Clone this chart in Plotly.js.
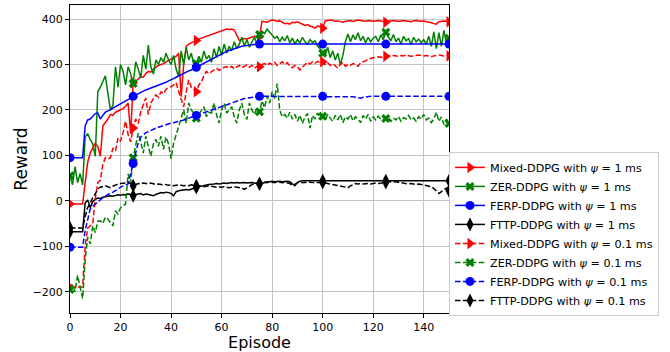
<!DOCTYPE html>
<html>
<head>
<meta charset="utf-8">
<script src="https://cdn.plot.ly/plotly-3.0.1.min.js"></script>
<style>html,body{margin:0;padding:0;background:#fff;}#chart{width:670px;height:352px;}</style>
</head>
<body>
<div id="chart"></div>
<script>
// Episodes 0..150
const episodes = Array.from({length: 151}, (_, i) => i);
const markerEvery = 25;

const seriesNames = [
  "Mixed-DDPG with <i>ψ</i> = 1 ms",
  "ZER-DDPG with <i>ψ</i> = 1 ms",
  "FERP-DDPG with <i>ψ</i> = 1 ms",
  "FTTP-DDPG with <i>ψ</i> = 1 ms",
  "Mixed-DDPG with <i>ψ</i> = 0.1 ms",
  "ZER-DDPG with <i>ψ</i> = 0.1 ms",
  "FERP-DDPG with <i>ψ</i> = 0.1 ms",
  "FTTP-DDPG with <i>ψ</i> = 0.1 ms"
];

const mixed1 = [
  -7,-7,-7,-7,-7,-7,40,85,105,118,
  127,120,98,165,172,180,190,188,195,198,
  200,203,208,215,148,260,263,268,273,272,
  280,285,283,290,295,298,300,302,306,310,
  312,315,318,325,229,300,340,345,348,350,
  353,356,358,360,362,365,367,369,370,372,
  374,376,378,377,378,376,365,353,355,357,
  356,358,360,362,361,362,395,394,393,396,
  398,397,395,396,392,390,391,389,393,392,
  394,391,389,386,388,384,383,380,385,383,
  380,396,397,398,397,395,396,394,393,395,
  396,397,395,396,398,397,396,395,397,396,
  395,396,397,396,394,393,395,396,397,396,
  395,396,397,396,395,394,396,397,396,395,
  396,395,394,392,390,389,394,395,396,395,
  394
];
const zer1 = [
  55,35,75,40,60,35,140,148,135,125,
  98,240,250,262,275,236,200,210,295,250,
  300,285,255,295,280,258,306,290,270,320,
  290,343,295,279,310,300,315,305,325,310,
  300,320,290,273,330,300,338,310,325,300,
  302,318,305,330,312,320,305,335,315,340,
  320,345,325,340,330,350,335,345,360,340,
  355,338,348,360,345,366,372,368,378,372,
  365,358,362,350,360,352,364,348,358,345,
  355,348,360,350,345,355,348,352,340,335,
  325,320,338,315,330,310,325,299,320,350,
  367,350,365,355,370,352,362,348,360,350,
  358,362,350,365,355,371,360,352,366,350,
  358,345,362,352,357,345,360,350,356,348,
  355,345,362,340,372,335,370,340,375,345,
  358
];
const ferp1 = [
  95,95,95,95,95,95,165,178,180,186,
  192,193,180,188,195,198,200,204,207,210,
  213,216,219,222,226,230,233,236,238,241,
  244,246,248,250,252,254,256,258,261,264,
  266,269,272,275,278,281,283,286,288,291,
  294,297,300,303,306,309,312,315,318,321,
  324,327,329,331,333,335,337,339,340,341,
  342,343,344,345,345,345,345,345,345,345,
  345,345,345,345,345,345,345,345,345,345,
  345,345,345,345,345,345,345,345,345,345,
  345,345,345,345,345,345,345,345,345,345,
  345,345,345,345,345,345,345,345,345,345,
  345,345,345,345,345,345,345,345,345,345,
  345,345,345,345,345,345,345,345,345,345,
  345,345,345,345,345,345,345,345,345,345,
  345
];
const fttp1 = [
  -68,-68,-68,-68,-68,-68,-5,2,-15,-2,
  3,6,5,8,9,10,11,10,12,13,
  12,14,13,15,14,11,14,15,16,13,
  15,14,12,11,14,16,18,17,19,18,
  16,11,20,22,23,24,25,24,26,27,
  29,31,32,34,35,36,36,37,38,37,
  38,39,38,39,40,39,40,39,40,40,
  39,40,40,39,38,37,38,40,42,42,
  43,42,43,43,42,43,43,42,38,33,
  40,43,44,44,43,44,44,44,44,44,
  44,44,44,44,44,44,44,44,44,44,
  44,44,44,44,44,44,44,44,44,44,
  44,44,44,44,44,44,44,44,44,44,
  44,44,44,44,44,44,44,44,44,44,
  44,44,44,44,44,44,44,44,44,44,
  44
];
const mixed01 = [
  -190,-190,-190,-190,-190,-190,-100,-60,-55,-50,
  5,40,45,80,95,92,95,116,110,138,
  131,150,175,146,130,160,180,170,196,210,
  226,190,215,225,233,228,240,236,245,250,
  251,255,260,240,225,207,240,266,250,245,
  240,255,262,275,285,280,284,288,292,287,
  290,294,295,292,296,290,295,298,293,297,
  299,294,298,292,296,295,300,302,298,303,
  300,305,298,302,306,300,304,297,293,298,
  296,288,295,300,305,301,306,303,307,304,
  306,300,304,298,302,296,292,300,305,296,
  300,298,302,300,296,304,306,308,312,314,
  315,316,317,316,317,318,319,318,320,319,
  318,320,319,321,320,318,319,320,321,320,
  319,320,318,317,319,320,321,320,319,320,
  319
];
const zer01 = [
  -195,-185,-200,-164,-190,-215,-130,-80,-95,-55,
  -70,-45,-44,-50,-36,-40,-48,-55,-22,-29,
  -15,-11,-7,59,40,95,120,149,130,105,
  142,120,98,125,135,120,142,113,140,125,
  92,127,145,164,180,200,171,215,200,193,
  182,190,200,207,185,195,193,215,190,171,
  200,215,193,200,207,185,171,200,215,190,
  179,215,200,190,205,196,220,205,230,215,
  240,225,258,200,185,190,182,195,180,190,
  175,188,170,185,192,160,188,180,193,183,
  186,178,190,182,175,188,178,190,172,185,
  180,190,176,185,180,172,188,180,190,175,
  185,178,186,180,183,181,185,175,182,178,
  186,175,183,180,188,178,182,175,185,180,
  190,178,182,172,180,195,175,185,168,180,
  170
];
const ferp01 = [
  -102,-102,-102,-102,-102,-102,-65,-40,-18,-12,
  -7,-2,3,7,10,14,17,19,22,26,
  30,33,35,37,60,82,110,128,140,146,
  150,152,155,157,160,162,164,166,168,169,
  171,172,173,175,176,178,180,182,184,186,
  188,190,192,194,196,198,200,202,204,206,
  208,210,212,214,216,218,220,222,224,225,
  226,227,228,229,230,230,230,230,230,230,
  230,230,229,230,230,230,230,230,230,230,
  230,230,230,230,230,230,230,230,230,230,
  230,230,230,230,230,230,230,230,230,230,
  230,230,229,228,227,226,228,229,230,230,
  230,230,230,230,230,230,230,230,230,230,
  230,230,230,230,230,230,230,230,230,230,
  230,230,230,230,230,230,230,230,230,230,
  230
];
const fttp01 = [
  -60,-60,-60,-60,-60,-60,-35,-15,-5,7,
  15,26,30,32,33,31,29,32,35,37,
  38,39,40,40,38,33,36,38,37,39,
  38,37,39,38,36,37,36,35,36,34,
  35,33,34,35,34,33,34,33,35,34,
  33,32,33,31,32,33,32,31,30,31,
  30,31,30,29,30,31,30,29,28,25,
  28,32,36,38,39,38,40,41,40,42,
  41,40,42,41,40,41,40,38,34,36,
  40,41,40,41,40,41,40,40,41,40,
  40,39,38,37,36,35,34,33,31,30,
  29,33,36,38,37,38,37,38,38,37,
  38,39,38,39,40,40,41,42,42,42,
  41,40,39,38,37,38,37,36,37,36,
  35,34,33,31,27,22,16,20,25,28,
  22
];

const xTicks = [0, 20, 40, 60, 80, 100, 120, 140];
const yTicks = [-200, -100, 0, 100, 200, 300, 400];

const seriesData = [mixed1, zer1, ferp1, fttp1, mixed01, zer01, ferp01, fttp01];
const colors = ["#ff0000", "#008000", "#0000ff", "#000000", "#ff0000", "#008000", "#0000ff", "#000000"];
const symbols = ["triangle-right", "x", "circle", "diamond-tall", "triangle-right", "x", "circle", "diamond-tall"];
const sizes = [10, 8, 9, 10, 10, 8, 9, 10];
const dashes = ["solid", "solid", "solid", "solid", "5.5px,2.4px", "5.5px,2.4px", "5.5px,2.4px", "5.5px,2.4px"];

const traces = seriesData.map((ys, k) => {
  const mcol = episodes.map(e => (e % markerEvery === 0) ? colors[k] : "rgba(0,0,0,0)");
  return {
    type: "scatter",
    mode: "lines+markers",
    name: seriesNames[k],
    x: episodes,
    y: ys,
    line: {color: colors[k], width: 1.5, dash: dashes[k]},
    marker: {symbol: symbols[k], size: sizes[k], color: mcol, line: {width: 0}},
    hoverinfo: "skip"
  };
});

const font = {family: "DejaVu Sans, sans-serif", color: "#000"};
const layout = {
  width: 670, height: 352,
  margin: {l: 70, r: 221, t: 5, b: 39},
  paper_bgcolor: "#fff", plot_bgcolor: "#fff",
  showlegend: true,
  font: font,
  xaxis: {
    range: [0, 150], tickvals: xTicks, ticktext: xTicks.map(String),
    showgrid: true, gridcolor: "#c4c4c4", gridwidth: 1,
    zeroline: false, showline: true, mirror: true, linecolor: "#000", linewidth: 1,
    ticks: "outside", ticklen: 4, tickcolor: "#000",
    tickfont: {family: font.family, size: 11, color: "#000"},
    title: {text: "Episode", font: {family: font.family, size: 16, color: "#000"}, standoff: 7}
  },
  yaxis: {
    range: [-247, 431], tickvals: yTicks,
    showgrid: true, gridcolor: "#c4c4c4", gridwidth: 1,
    zeroline: false, showline: true, mirror: true, linecolor: "#000", linewidth: 1,
    ticks: "outside", ticklen: 4, tickcolor: "#000",
    tickfont: {family: font.family, size: 11, color: "#000"},
    title: {text: "Reward", font: {family: font.family, size: 17, color: "#000"}, standoff: 0}
  },
  legend: {
    x: 1.0, xanchor: "left", y: 0.523, yanchor: "top",
    bgcolor: "rgba(255,255,255,0.9)", bordercolor: "#cccccc", borderwidth: 1,
    font: {family: font.family, size: 11.2, color: "#000"},
    itemwidth: 30, tracegroupgap: 0
  }
};

Plotly.newPlot("chart", traces, layout, {displayModeBar: false, staticPlot: true});
</script>
</body>
</html>
